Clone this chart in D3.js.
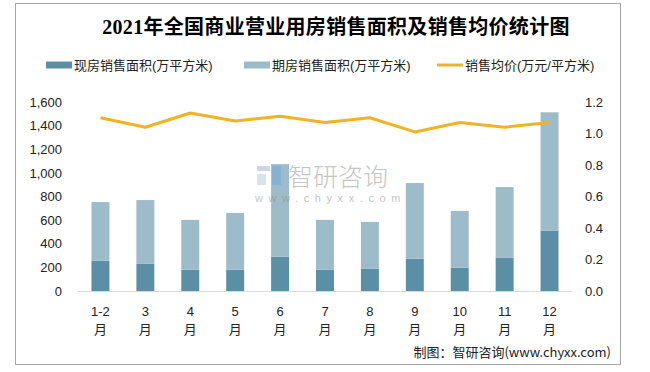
<!DOCTYPE html>
<html>
<head>
<meta charset="utf-8">
<script src="https://cdn.jsdelivr.net/npm/d3@7"></script>
<style>
  body { margin: 0; background: #fff; }
  text { font-family: "Liberation Sans", "Noto Sans CJK SC", sans-serif; fill: #222; }
</style>
</head>
<body>
<svg id="chart"></svg>
<script>
const width = 650, height = 372;

// data
const months = ["1-2月", "3月", "4月", "5月", "6月", "7月", "8月", "9月", "10月", "11月", "12月"];
const spotArea = [256, 230, 180, 180, 290, 180, 188, 273, 197, 281, 509];      // 现房
const futureArea = [497, 540, 422, 481, 784, 422, 397, 641, 481, 599, 1004];  // 期房
const avgPrice = [1.10, 1.04, 1.13, 1.08, 1.11, 1.07, 1.10, 1.01, 1.07, 1.04, 1.07];
const leftTicks = [0, 200, 400, 600, 800, 1000, 1200, 1400, 1600];
const rightTicks = [0, 0.2, 0.4, 0.6, 0.8, 1.0, 1.2];

const seriesNames = ["现房销售面积(万平方米)", "期房销售面积(万平方米)", "销售均价(万元/平方米)"];
const colors = ["#5b8fa6", "#9dbcca", "#f0b323"];

const svg = d3.select("#chart")
    .attr("width", width)
    .attr("height", height);

// outer frame
svg.append("rect")
    .attr("x", 15.5).attr("y", 3.5)
    .attr("width", 605).attr("height", 361)
    .attr("fill", "#fff")
    .attr("stroke", "#a6a6a6");

// title
svg.append("text")
    .attr("x", 336).attr("y", 34)
    .attr("text-anchor", "middle")
    .style("font-family", "'Liberation Serif', 'Noto Sans CJK SC', serif")
    .style("font-weight", "bold")
    .style("font-size", "20px")
    .style("letter-spacing", "0.3px")
    .style("fill", "#000")
    .text("2021年全国商业营业用房销售面积及销售均价统计图");

// legend
const legendX = [46, 244, 437];
const legend = svg.selectAll(".legend")
    .data(seriesNames)
    .enter().append("g")
    .attr("class", "legend")
    .attr("transform", function (d, i) { return "translate(" + legendX[i] + ",65)"; });

legend.append("rect")
    .attr("x", 0)
    .attr("y", function (d, i) { return i < 2 ? -3.5 : -1.5; })
    .attr("width", 26)
    .attr("height", function (d, i) { return i < 2 ? 7 : 3; })
    .attr("fill", function (d, i) { return colors[i]; });

legend.append("text")
    .attr("x", 28)
    .attr("dy", "0.35em")
    .style("font-size", "13px")
    .text(function (d) { return d; });

// scales
const x = d3.scaleBand()
    .domain(months)
    .range([78, 572])
    .paddingInner(0.6)
    .paddingOuter(0.3);

const yLeft = d3.scaleLinear().domain([0, 1600]).range([291, 102]);
const yRight = d3.scaleLinear().domain([0, 1.2]).range([291, 102]);

// left axis labels
svg.append("g")
    .attr("transform", "translate(70,0)")
    .call(d3.axisLeft(yLeft).tickValues(leftTicks).tickFormat(d3.format(",")).tickSize(0).tickPadding(8))
    .call(function (g) { g.select(".domain").remove(); })
    .selectAll("text")
    .style("font-size", "13px")
    .style("font-family", "'Liberation Sans', sans-serif")
    .style("fill", "#222");

// right axis labels
svg.append("g")
    .attr("transform", "translate(577,0)")
    .call(d3.axisRight(yRight).tickValues(rightTicks).tickFormat(d3.format(".1f")).tickSize(0).tickPadding(8))
    .call(function (g) { g.select(".domain").remove(); })
    .selectAll("text")
    .style("font-size", "13px")
    .style("font-family", "'Liberation Sans', sans-serif")
    .style("fill", "#222");

// stacked bars
const rows = months.map(function (m, i) {
    return { month: m, spot: spotArea[i], future: futureArea[i] };
});
const stack = d3.stack().keys(["spot", "future"])(rows);

svg.selectAll(".layer")
    .data(stack)
    .enter().append("g")
    .attr("class", "layer")
    .attr("fill", function (d, i) { return colors[i]; })
    .selectAll("rect")
    .data(function (d) { return d; })
    .enter().append("rect")
    .attr("x", function (d) { return x(d.data.month); })
    .attr("y", function (d) { return yLeft(d[1]); })
    .attr("width", x.bandwidth())
    .attr("height", function (d) { return yLeft(d[0]) - yLeft(d[1]); });

// baseline
svg.append("line")
    .attr("x1", 78).attr("x2", 572)
    .attr("y1", 291.5).attr("y2", 291.5)
    .attr("stroke", "#d9d9d9");

// category labels, two lines
const xLabels = svg.append("g")
    .attr("transform", "translate(0,291)")
    .call(d3.axisBottom(x).tickSize(0).tickPadding(0).tickFormat(""))
    .call(function (g) { g.select(".domain").remove(); });

xLabels.selectAll(".tick").each(function (m) {
    const t = d3.select(this).append("text")
        .attr("text-anchor", "middle")
        .style("font-size", "13px")
        .style("fill", "#222");
    t.append("tspan").attr("x", 0).attr("y", 25).text(m.replace("月", ""));
    t.append("tspan").attr("x", 0).attr("y", 43).style("font-family", "'Noto Sans CJK SC', sans-serif").text("月");
});

// price line
const line = d3.line()
    .x(function (d, i) { return x(months[i]) + x.bandwidth() / 2; })
    .y(function (d) { return yRight(d); });

svg.append("path")
    .datum(avgPrice)
    .attr("d", line)
    .attr("fill", "none")
    .attr("stroke", colors[2])
    .attr("stroke-width", 3)
    .attr("stroke-linejoin", "round");

// watermark
const wm = svg.append("g").attr("opacity", 0.5);
wm.append("rect").attr("x", 257).attr("y", 166).attr("width", 13).attr("height", 5).attr("fill", "#9aaecb");
wm.append("rect").attr("x", 257).attr("y", 174).attr("width", 9).attr("height", 11).attr("fill", "#b7c6db");
wm.append("rect").attr("x", 272).attr("y", 166).attr("width", 9).attr("height", 19).attr("fill", "#6fa8dc");
wm.append("text")
    .attr("x", 288).attr("y", 186)
    .style("font-family", "'Noto Sans CJK SC', sans-serif")
    .style("font-weight", "300")
    .style("font-size", "25px")
    .style("fill", "#8c8c8c")
    .text("智研咨询");
wm.append("text")
    .attr("x", 255).attr("y", 202)
    .style("font-size", "11px")
    .style("letter-spacing", "5.6px")
    .style("fill", "#8c8c8c")
    .text("www.chyxx.com");

// source note
svg.append("text")
    .attr("x", 611).attr("y", 357)
    .attr("text-anchor", "end")
    .style("font-size", "13px")
    .style("font-family", "'Noto Sans CJK SC', sans-serif")
    .text("制图：智研咨询(www.chyxx.com)");
</script>
</body>
</html>
